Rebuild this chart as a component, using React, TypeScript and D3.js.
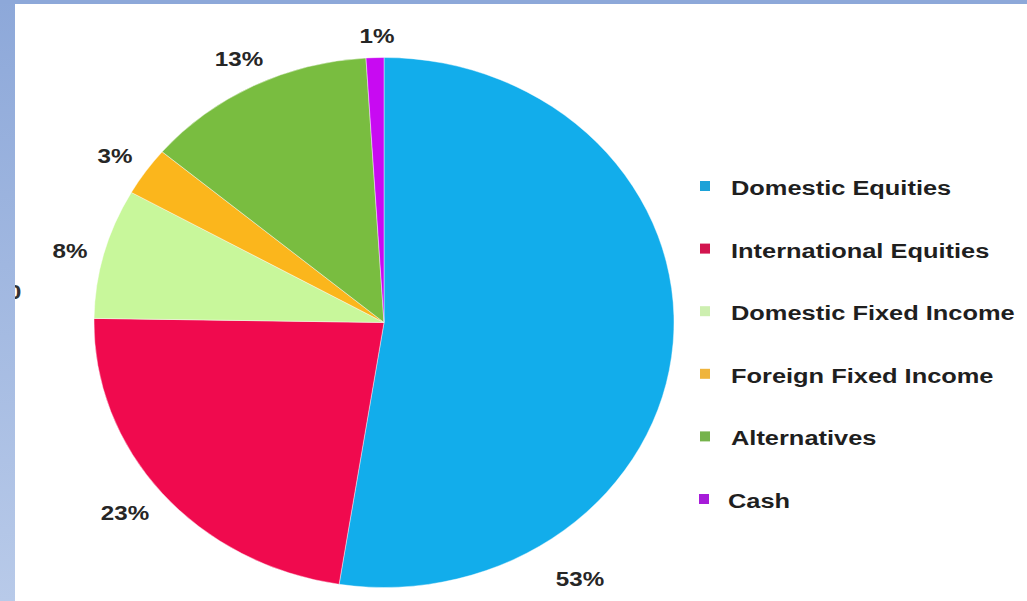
import React from "react";
import * as d3 from "d3";

const categories = [
  "Domestic Equities",
  "International Equities",
  "Domestic Fixed Income",
  "Foreign Fixed Income",
  "Alternatives",
  "Cash",
];
const values = [53, 23, 8, 3, 13, 1];
const sliceColors = ["#12ADEB", "#F00A4E", "#C8F79B", "#FBB61C", "#79BD40", "#C80AF2"];
const legendColors = ["#1CA2D8", "#D2154F", "#CDEFB0", "#EFB43C", "#75B34B", "#A71CD9"];
const labelPos: [number, number][] = [
  [580, 586],
  [125, 520],
  [70, 258],
  [115, 163],
  [239, 66],
  [377, 43],
];

export default function App() {
  const W = 1027;
  const H = 601;
  const cx = 384;
  const cy = 322.5;
  const ry = 265;
  const rx = 290;
  const pie = d3.pie<number>().sort(null).value((d) => d);
  const arcs = pie(values);
  const arc = d3.arc<d3.PieArcDatum<number>>().innerRadius(0).outerRadius(ry);

  const legendY = d3
    .scalePoint<string>()
    .domain(categories)
    .range([187, 500]);

  return (
    <svg
      width={W}
      height={H}
      style={{ position: "absolute", left: 0, top: 0 }}
      fontFamily="'Liberation Sans', Arial, sans-serif"
    >
      <defs>
        <linearGradient id="band" x1="0" y1="0" x2="0" y2="1">
          <stop offset="0" stopColor="#8DA8D9" />
          <stop offset="1" stopColor="#B8CAE9" />
        </linearGradient>
      </defs>
      <rect x={0} y={0} width={W} height={H} fill="#ffffff" />
      <g transform="translate(8,299) scale(1.2,1)">
        <text x={0} y={0} fontSize={20} fontWeight="bold" fill="#333">0</text>
      </g>
      <rect x={0} y={0} width={15} height={H} fill="url(#band)" />
      <rect x={0} y={0} width={W} height={4} fill="#8DA8D9" />

      <g transform={`translate(${cx},${cy}) scale(${rx / ry},1)`}>
        {arcs.map((a, i) => (
          <path
            key={i}
            d={arc(a) || ""}
            fill={sliceColors[i]}
            stroke="#ffffff"
            strokeOpacity={0.5}
            strokeWidth={0.8}
          />
        ))}
      </g>

      {arcs.map((a, i) => (
        <g key={i} transform={`translate(${labelPos[i][0]},${labelPos[i][1]}) scale(1.15,1)`}>
          <text
            x={0}
            y={0}
            textAnchor="middle"
            fontSize={21}
            fontWeight="bold"
            fill="#262626"
          >
            {`${values[i]}%`}
          </text>
        </g>
      ))}

      {categories.map((c, i) => {
        const y = legendY(c) as number;
        return (
          <g key={c}>
            <rect x={i === 5 ? 699 : 700} y={y - 6} width={10} height={10} fill={legendColors[i]} />
            <g transform={`translate(${i === 5 ? 728 : 731},${y + 8}) scale(1.27,1)`}>
              <text x={0} y={0} fontSize={20} fontWeight="bold" fill="#1f1f1f">
                {c}
              </text>
            </g>
          </g>
        );
      })}
    </svg>
  );
}
